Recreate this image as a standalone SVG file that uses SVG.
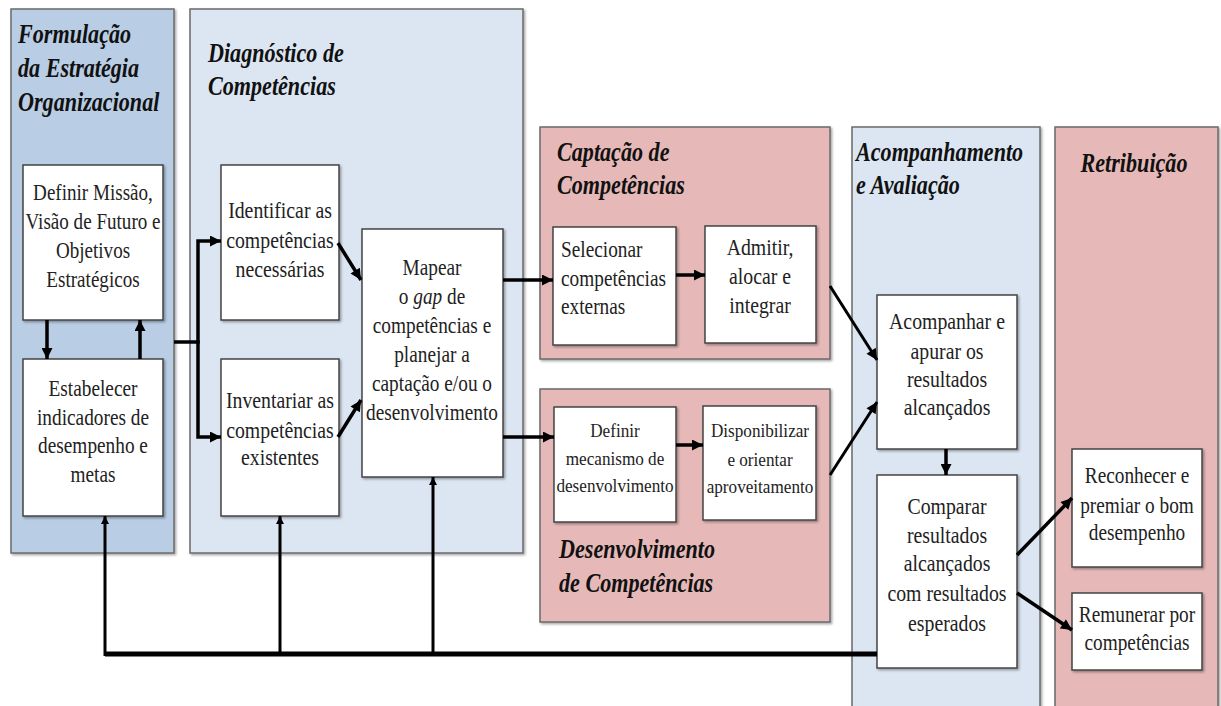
<svg xmlns="http://www.w3.org/2000/svg" width="1221" height="706" viewBox="0 0 1221 706">
<defs>
<filter id="sh" x="-5%" y="-5%" width="115%" height="115%">
<feDropShadow dx="1.5" dy="1.5" stdDeviation="1" flood-color="#000" flood-opacity="0.35"/>
</filter>
<marker id="ah" viewBox="0 0 10 10" refX="10" refY="5" markerWidth="12" markerHeight="11" markerUnits="userSpaceOnUse" orient="auto">
<path d="M0,0 L10,5 L0,10 z" fill="#000"/>
</marker>
<marker id="ahs" viewBox="0 0 10 10" refX="10" refY="5" markerWidth="13" markerHeight="8" markerUnits="userSpaceOnUse" orient="auto">
<path d="M0,0 L10,5 L0,10 z" fill="#000"/>
</marker>
</defs>
<style>
.pb{fill:#b9cde5;stroke:#6a6a6a;stroke-width:1.5}
.pl{fill:#dce6f2;stroke:#6a6a6a;stroke-width:1.5}
.pr{fill:#e6b9b8;stroke:#6a6a6a;stroke-width:1.5}
.bx{fill:#fff;stroke:#444;stroke-width:1.5}
text{font-family:'Liberation Serif','Times New Roman',Tinos,'DejaVu Serif',serif}
.t{font-weight:bold;font-style:italic;font-size:27px;fill:#111}
.b{font-size:23px;fill:#222;text-anchor:middle}
.bl{font-size:23px;fill:#222}
.s{font-size:19.5px;fill:#222;text-anchor:middle}
.c{fill:none;stroke:#000;stroke-width:3.5}
.cf{fill:none;stroke:#000;stroke-width:3}
</style>
<rect width="1221" height="706" fill="#fff"/>

<g id="panel-formulacao">
<rect class="pb" x="11" y="9" width="163" height="544" filter="url(#sh)"/>
<g transform="translate(18 0) scale(.82 1)">
<text class="t" y="43">Formulação</text>
<text class="t" y="77">da Estratégia</text>
<text class="t" y="111">Organizacional</text>
</g>
</g>
<g id="panel-diagnostico">
<rect class="pl" x="190" y="9" width="333" height="544" filter="url(#sh)"/>
<g transform="translate(208 0) scale(.82 1)">
<text class="t" y="62">Diagnóstico de</text>
<text class="t" y="95">Competências</text>
</g>
</g>
<g id="panel-captacao">
<rect class="pr" x="540" y="127" width="290" height="232" filter="url(#sh)"/>
<g transform="translate(557 0) scale(.82 1)">
<text class="t" y="161">Captação de</text>
<text class="t" y="194">Competências</text>
</g>
</g>
<g id="panel-desenvolvimento">
<rect class="pr" x="540" y="389" width="290" height="233" filter="url(#sh)"/>
<g transform="translate(559 0) scale(.82 1)">
<text class="t" y="558">Desenvolvimento</text>
<text class="t" y="592">de Competências</text>
</g>
</g>
<g id="panel-acompanhamento">
<rect class="pl" x="852" y="127" width="188" height="590" filter="url(#sh)"/>
<g transform="translate(856 0) scale(.82 1)">
<text class="t" y="161">Acompanhamento</text>
<text class="t" y="194">e Avaliação</text>
</g>
</g>
<g id="panel-retribuicao">
<rect class="pr" x="1055" y="127" width="163" height="590" filter="url(#sh)"/>
<g transform="translate(1134 0) scale(.82 1)">
<text class="t" y="172" text-anchor="middle">Retribuição</text>
</g>
</g>

<g id="n-definir-missao">
<rect class="bx" x="23" y="165" width="140" height="155" filter="url(#sh)"/>
<g transform="translate(93 0) scale(.83 1)">
<text class="b" y="200">Definir Missão,</text>
<text class="b" y="229">Visão de Futuro e</text>
<text class="b" y="258">Objetivos</text>
<text class="b" y="287">Estratégicos</text>
</g>
</g>
<g id="n-estabelecer">
<rect class="bx" x="23" y="359" width="140" height="157" filter="url(#sh)"/>
<g transform="translate(93 0) scale(.84 1)">
<text class="b" y="396">Estabelecer</text>
<text class="b" y="425">indicadores de</text>
<text class="b" y="453">desempenho e</text>
<text class="b" y="482">metas</text>
</g>
</g>
<g id="n-identificar">
<rect class="bx" x="221" y="165" width="118" height="155" filter="url(#sh)"/>
<g transform="translate(280 0) scale(.86 1)">
<text class="b" y="218">Identificar as</text>
<text class="b" y="248">competências</text>
<text class="b" y="277">necessárias</text>
</g>
</g>
<g id="n-inventariar">
<rect class="bx" x="221" y="359" width="118" height="157" filter="url(#sh)"/>
<g transform="translate(280 0) scale(.86 1)">
<text class="b" y="408">Inventariar as</text>
<text class="b" y="438">competências</text>
<text class="b" y="465">existentes</text>
</g>
</g>
<g id="n-mapear">
<rect class="bx" x="362" y="229" width="141" height="248" filter="url(#sh)"/>
<g transform="translate(432 0) scale(.84 1)">
<text class="b" y="275">Mapear</text>
<text class="b" y="304">o <tspan font-style="italic">gap</tspan> de</text>
<text class="b" y="333">competências e</text>
<text class="b" y="362">planejar a</text>
<text class="b" y="391">captação e/ou o</text>
<text class="b" y="420">desenvolvimento</text>
</g>
</g>
<g id="n-selecionar">
<rect class="bx" x="553" y="227" width="123" height="118" filter="url(#sh)"/>
<g transform="translate(561 0) scale(.84 1)">
<text class="bl" y="257">Selecionar</text>
<text class="bl" y="286">competências</text>
<text class="bl" y="314">externas</text>
</g>
</g>
<g id="n-admitir">
<rect class="bx" x="705" y="226" width="111" height="117" filter="url(#sh)"/>
<g transform="translate(760 0) scale(.86 1)">
<text class="b" y="255">Admitir,</text>
<text class="b" y="284">alocar e</text>
<text class="b" y="313">integrar</text>
</g>
</g>
<g id="n-definir-mecanismo">
<rect class="bx" x="554" y="407" width="122" height="115" filter="url(#sh)"/>
<g transform="translate(615 0) scale(.88 1)">
<text class="s" y="437">Definir</text>
<text class="s" y="465">mecanismo de</text>
<text class="s" y="492">desenvolvimento</text>
</g>
</g>
<g id="n-disponibilizar">
<rect class="bx" x="703" y="406" width="113" height="114" filter="url(#sh)"/>
<g transform="translate(760 0) scale(.88 1)">
<text class="s" y="437">Disponibilizar</text>
<text class="s" y="466">e orientar</text>
<text class="s" y="493">aproveitamento</text>
</g>
</g>
<g id="n-acompanhar">
<rect class="bx" x="877" y="295" width="140" height="154" filter="url(#sh)"/>
<g transform="translate(947 0) scale(.86 1)">
<text class="b" y="329">Acompanhar e</text>
<text class="b" y="359">apurar os</text>
<text class="b" y="387">resultados</text>
<text class="b" y="415">alcançados</text>
</g>
</g>
<g id="n-comparar">
<rect class="bx" x="877" y="475" width="140" height="193" filter="url(#sh)"/>
<g transform="translate(947 0) scale(.86 1)">
<text class="b" y="514">Comparar</text>
<text class="b" y="543">resultados</text>
<text class="b" y="571">alcançados</text>
<text class="b" y="601">com resultados</text>
<text class="b" y="631">esperados</text>
</g>
</g>
<g id="n-reconhecer">
<rect class="bx" x="1072" y="449" width="130" height="118" filter="url(#sh)"/>
<g transform="translate(1137 0) scale(.84 1)">
<text class="b" y="483">Reconhecer e</text>
<text class="b" y="513">premiar o bom</text>
<text class="b" y="540">desempenho</text>
</g>
</g>
<g id="n-remunerar">
<rect class="bx" x="1072" y="593" width="130" height="77" filter="url(#sh)"/>
<g transform="translate(1137 0) scale(.84 1)">
<text class="b" y="622">Remunerar por</text>
<text class="b" y="650">competências</text>
</g>
</g>

<g id="connectors">
<path class="c" d="M47 320 V359" marker-end="url(#ah)"/>
<path class="c" d="M140 359 V320" marker-end="url(#ah)"/>
<path class="c" d="M174 342 H198"/>
<path class="c" d="M198 343.7 V241 H221" marker-end="url(#ah)"/>
<path class="c" d="M198 340.3 V437 H221" marker-end="url(#ah)"/>
<path class="c" d="M338 243 L361 280" marker-end="url(#ah)"/>
<path class="c" d="M338 437 L361 400" marker-end="url(#ah)"/>
<path class="c" d="M503 280 H553" marker-end="url(#ah)"/>
<path class="c" d="M503 437 H554" marker-end="url(#ah)"/>
<path class="c" d="M676 275 H705" marker-end="url(#ah)"/>
<path class="c" d="M676 445 H703" marker-end="url(#ah)"/>
<path class="cf" d="M830 286 L877 360" marker-end="url(#ah)"/>
<path class="cf" d="M830 475 L877 402" marker-end="url(#ah)"/>
<path class="c" d="M946 449 V475" marker-end="url(#ah)"/>
<path class="c" d="M1017 555 L1072 498" marker-end="url(#ah)"/>
<path class="c" d="M1017 593 L1072 630" marker-end="url(#ah)"/>
<path fill="none" stroke="#000" stroke-width="5" d="M877 654 H105"/>
<path class="cf" d="M105 656 V516" marker-end="url(#ahs)"/>
<path class="cf" d="M280 656 V516" marker-end="url(#ahs)"/>
<path class="cf" d="M433 656 V477" marker-end="url(#ahs)"/>
</g>
</svg>
